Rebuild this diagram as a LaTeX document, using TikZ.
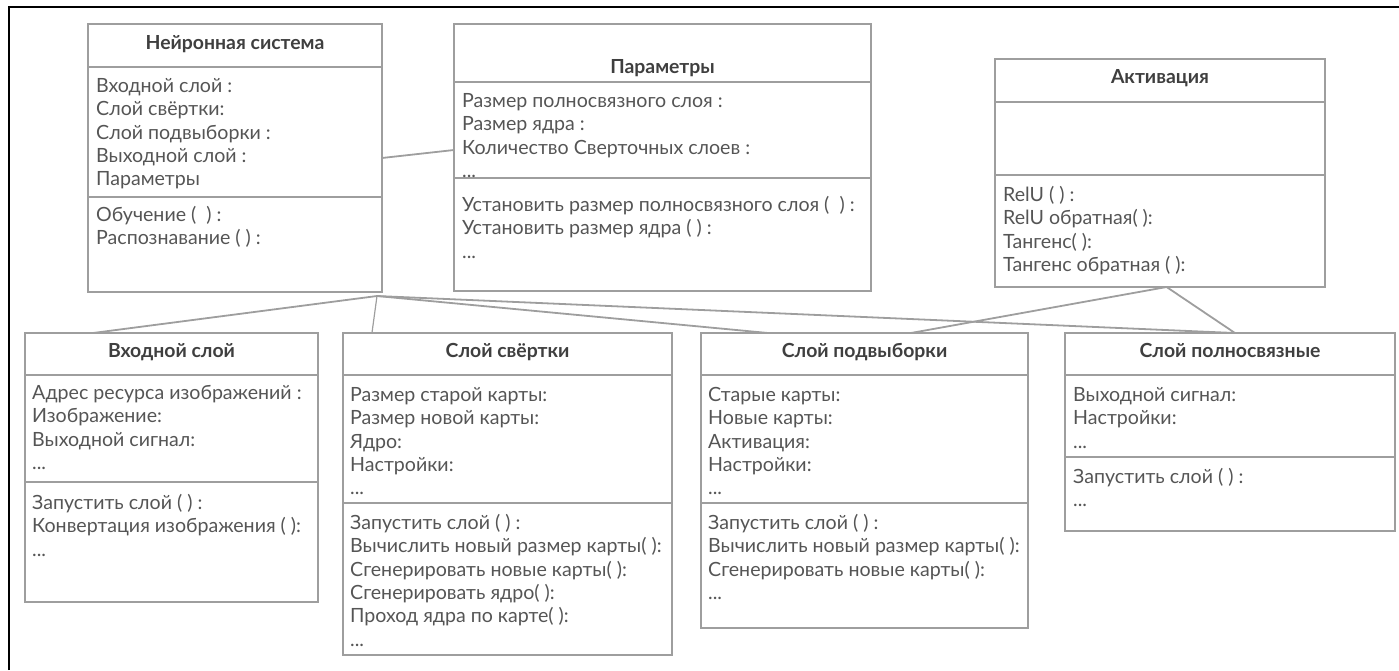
\documentclass[tikz,border=0pt]{standalone}
\usepackage{fontspec}
\setmainfont{Lato}
\usetikzlibrary{calc}
\definecolor{edge}{HTML}{9E9E9E}
\definecolor{ink}{HTML}{555555}
\definecolor{head}{HTML}{3F3F3F}
\tikzset{
  classbox/.style={draw=edge, line width=1.8pt, anchor=north west, inner sep=0pt, outer sep=0pt},
  sepline/.style={draw=edge, line width=1.8pt},
  link/.style={draw=edge, line width=1.8pt},
  frame/.style={draw=black, line width=1.6pt},
  title/.style={font=\fontsize{19.4}{22}\selectfont\bfseries, text=head, anchor=base, inner sep=0pt},
  rowtxt/.style={font=\fontsize{19.6}{22}\selectfont, text=ink, anchor=base west, inner sep=0pt},
}
% "..." row (kept in a macro so \foreach does not read it as a range)
\newcommand\etc{...}
% class box: name, left, top, right, bottom
\newcommand\umlbox[5]{%
  \node[classbox, minimum width={#4-#2}, minimum height={#5-#3}] (#1) at (#2,#3) {};}
% horizontal compartment line, offset from the top of the box
\newcommand\compsep[2]{%
  \draw[sepline] ($(#1.north west)+(0,#2)$) -- ($(#1.north east)+(0,#2)$);}
% list of text rows: prefix, x, first baseline, rows
\newcommand\rows[4]{%
  \foreach \t [count=\i] in {#4}
    \node[rowtxt] (#1-\i) at (#2,{#3+1.5+(\i-1)*23.3}) {\t};}
\begin{document}
\begin{tikzpicture}[x=1pt,y=-1pt]
\useasboundingbox (0,0) rectangle (1399,670);
\draw[frame] (9,670) -- (9,7) -- (1399,7);

% Нейронная система
\umlbox{nn}{88}{24}{382}{292}
\compsep{nn}{43}\compsep{nn}{173}
\node[title] (nn-t) at ($(nn.north)+(0,25)$) {Нейронная система};
\rows{nna}{96}{91}{Входной слой :, Слой свёртки:, Слой подвыборки :, Выходной слой :, Параметры}
\rows{nnm}{96}{220}{Обучение (\ \ ) :, Распознавание ( ) :}

% Параметры
\umlbox{par}{454}{24}{871}{291}
\compsep{par}{58}\compsep{par}{154}
\node[title] (par-t) at ($(par.north)+(0,49.5)$) {Параметры};
\rows{para}{462}{106}{Размер полносвязного слоя :, Размер ядра :, Количество Сверточных слоев :, \etc}
\rows{parm}{462}{210}{Установить размер полносвязного слоя (\ \ ) :, Установить размер ядра ( ) :, \etc}

% Активация
\umlbox{akt}{995}{59}{1325}{287}
\compsep{akt}{43}\compsep{akt}{116}
\node[title] (akt-t) at ($(akt.north)+(0,24.5)$) {Активация};
\rows{aktm}{1003}{200}{RelU ( ) :, RelU обратная( ):, Тангенс( ):, Тангенс обратная ( ):}

% Входной слой
\umlbox{in}{25}{333}{318}{602}
\compsep{in}{42}\compsep{in}{149}
\node[title] (in-t) at ($(in.north)+(0,24)$) {Входной слой};
\rows{ina}{32}{398}{Адрес ресурса изображений :, Изображение:, Выходной сигнал:, \etc}
\rows{inm}{32}{508}{Запустить слой ( ) :, Конвертация изображения ( ):, \etc}

% Слой свёртки
\umlbox{conv}{343}{333}{672}{655}
\compsep{conv}{42}\compsep{conv}{170}
\node[title] (conv-t) at ($(conv.north)+(0,24)$) {Слой свёртки};
\rows{conva}{350}{400}{Размер старой карты:, Размер новой карты:, Ядро:, Настройки:, \etc}
\rows{convm}{350}{528}{Запустить слой ( ) :, Вычислить новый размер карты( ):, Сгенерировать новые карты( ):, Сгенерировать ядро( ):, Проход ядра по карте( ):, \etc}

% Слой подвыборки
\umlbox{pool}{701}{333}{1028}{628}
\compsep{pool}{42}\compsep{pool}{170}
\node[title] (pool-t) at ($(pool.north)+(0,24)$) {Слой подвыборки};
\rows{poola}{708}{400}{Старые карты:, Новые карты:, Активация:, Настройки:, \etc}
\rows{poolm}{708}{528}{Запустить слой ( ) :, Вычислить новый размер карты( ):, Сгенерировать новые карты( ):, \etc}

% Слой полносвязные
\umlbox{fc}{1065}{333}{1395}{531}
\compsep{fc}{42}\compsep{fc}{124}
\node[title] (fc-t) at ($(fc.north)+(0,24)$) {Слой полносвязные};
\rows{fca}{1073}{400}{Выходной сигнал:, Настройки:, \etc}
\rows{fcm}{1073}{482}{Запустить слой ( ) :, \etc}

% связи
\coordinate (nnhub) at ($(nn.south east)+(-5,4)$);
\coordinate (akthub) at ($(akt.south west)!0.52!(akt.south east)$);
\draw[link] (nn.east) -- ($(par.west)+(0,-7.5)$);
\draw[link] (nnhub) -- ($(in.north west)!0.232!(in.north east)$);
\draw[link, line width=1.2pt] (nnhub) -- ($(conv.north west)!0.088!(conv.north east)$);
\draw[link] (nnhub) -- ($(pool.north west)!0.205!(pool.north east)$);
\draw[link] (nnhub) -- ($(fc.north west)!0.515!(fc.north east)$);
\draw[link] (akthub) -- ($(pool.north west)!0.642!(pool.north east)$);
\draw[link] (akthub) -- ($(fc.north west)!0.515!(fc.north east)$);
\end{tikzpicture}
\end{document}
